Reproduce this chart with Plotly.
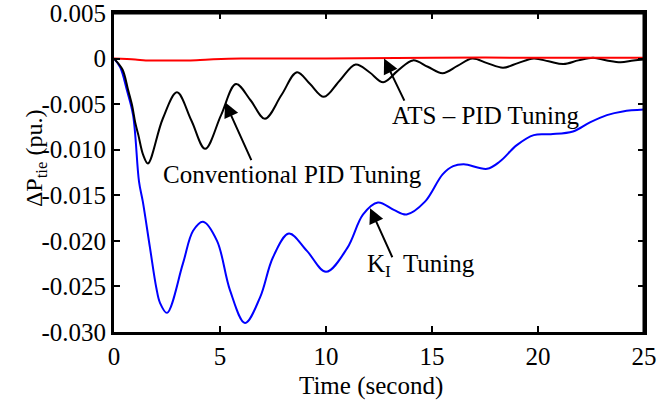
import plotly.graph_objects as go

# ---- data ----
t_ki = [0, 0.3, 0.6, 0.9, 1.18, 1.36, 1.7, 2.0, 2.17, 2.5, 3.25, 3.73, 4.2, 4.86, 5.47, 6.18,
        6.89, 7.5, 8.25, 9.1, 10.0, 11.0, 11.75, 12.45, 13.2, 13.8, 14.67, 15.5, 16.0, 16.5,
        17.6, 18.2, 19.0, 19.8, 20.6, 21.65, 22.45, 23.25, 24.0, 25.0]
v_ki = [0, -0.001, -0.0034, -0.0062, -0.0135, -0.0157, -0.0208, -0.0252, -0.0268, -0.0279,
        -0.0225, -0.0189, -0.0179, -0.0200, -0.0254, -0.0290, -0.0262, -0.0218, -0.0192,
        -0.0211, -0.0234, -0.0208, -0.0171, -0.0158, -0.0166, -0.0171, -0.0157, -0.0127,
        -0.0118, -0.0116, -0.0121, -0.0113, -0.0095, -0.0084, -0.0083, -0.0080, -0.0070,
        -0.0062, -0.0058, -0.0056]

t_conv = [0, 0.4, 0.66, 0.85, 1.0, 1.15, 1.38, 1.6, 2.3, 2.97, 3.65, 4.3, 5.05, 5.75, 6.45,
          7.12, 7.9, 8.63, 9.25, 9.9, 10.65, 11.4, 12.05, 12.7, 13.4, 14.1, 14.8, 15.5, 16.2,
          16.9, 17.6, 18.35, 19.05, 19.8, 20.5, 21.2, 21.9, 22.6, 23.25, 23.9, 24.5, 25.0]
v_conv = [0, -0.0012, -0.0034, -0.0051, -0.0070, -0.0084, -0.0106, -0.0115, -0.0066, -0.0037,
          -0.0068, -0.0099, -0.0062, -0.0028, -0.0046, -0.0066, -0.0040, -0.0015, -0.0028,
          -0.0042, -0.0024, -0.00065, -0.0015, -0.0026, -0.0013, -0.0002, -0.0009, -0.0016,
          -0.0008, 0.0, -0.0005, -0.0010, -0.0005, 0.0, -0.0003, -0.0006, -0.0002, 0.0001,
          -0.0002, -0.0004, -0.0002, -0.0001]

t_ats = [0, 1.0, 1.5, 2.5, 3.5, 4.5, 6.0, 10.0, 15.0, 20.0, 25.0]
v_ats = [0, -0.0001, -0.0002, -0.0002, -0.0002, -0.0001, 0, 0, 0.0001, 0.0001, 0.0001]

x_ticks = [0, 5, 10, 15, 20, 25]
y_ticks = [-0.030, -0.025, -0.020, -0.015, -0.010, -0.005, 0, 0.005]
y_tick_text = ["-0.030", "-0.025", "-0.020", "-0.015", "-0.010", "-0.005", "0", "0.005"]

FONT = "Liberation Serif, Times New Roman, serif"
TICK_SIZE = 25
TEXT_SIZE = 25
X_RANGE = [0, 25]
Y_RANGE = [-0.030, 0.005]

fig = go.Figure()
fig.add_trace(go.Scatter(x=t_ki, y=v_ki, mode="lines", line=dict(color="#0000ff", width=2, shape="spline")))
fig.add_trace(go.Scatter(x=t_conv, y=v_conv, mode="lines", line=dict(color="#000000", width=2, shape="spline")))
fig.add_trace(go.Scatter(x=t_ats, y=v_ats, mode="lines", line=dict(color="#ff0000", width=2, shape="spline")))
# top and right sides of the axes box, following the axis ranges
fig.add_trace(go.Scatter(x=[X_RANGE[0], X_RANGE[1], X_RANGE[1]],
                         y=[Y_RANGE[1], Y_RANGE[1], Y_RANGE[0]],
                         mode="lines", line=dict(color="black", width=3),
                         cliponaxis=False, hoverinfo="skip"))

tick_common = dict(ticks="inside", ticklen=6, tickwidth=2, tickcolor="black",
                   showline=True, linecolor="black", linewidth=3, mirror="allticks",
                   showgrid=False, zeroline=False, automargin=False, ticklabeloverflow="allow",
                   tickfont=dict(family=FONT, size=TICK_SIZE, color="black"))

fig.update_layout(
    xaxis=dict(range=X_RANGE, tickvals=x_ticks, ticklabelstandoff=0, **tick_common),
    yaxis=dict(range=Y_RANGE, tickvals=y_ticks, ticktext=y_tick_text, **tick_common),
)

arrow = dict(showarrow=True, arrowhead=2, arrowsize=1.5, arrowwidth=2, arrowcolor="black",
             axref="x", ayref="y", xref="x", yref="y", text="")
annotations = [
    dict(x=12.74, y=0.0, ax=13.73, ay=-0.00478, **arrow),
    dict(x=5.24, y=-0.00478, ax=6.51, ay=-0.0113, **arrow),
    dict(x=12.08, y=-0.01641, ax=13.16, ay=-0.02196, **arrow),
    dict(x=17.5, y=-0.0062, xref="x", yref="y", showarrow=False, text="ATS – PID Tuning",
         font=dict(family=FONT, size=TEXT_SIZE, color="black")),
    dict(x=8.44, y=-0.0127, xref="x", yref="y", showarrow=False, text="Conventional PID Tuning",
         font=dict(family=FONT, size=TEXT_SIZE, color="black")),
    dict(x=14.48, y=-0.0227, xref="x", yref="y", showarrow=False, text="K<sub>I</sub>  Tuning",
         font=dict(family=FONT, size=TEXT_SIZE, color="black")),
    dict(x=0.485, y=-0.168, xref="paper", yref="paper", showarrow=False, text="Time (second)",
         font=dict(family=FONT, size=TEXT_SIZE, color="black"), yanchor="middle"),
    dict(x=-0.178, y=0.544, xref="paper", yref="paper", showarrow=False, textangle=-90,
         text="ΔP<sub>tie</sub> (pu.)", font=dict(family=FONT, size=24, color="black")),
]

fig.update_layout(width=662, height=402, margin=dict(l=114, r=18, t=13, b=70),
                  paper_bgcolor="white", plot_bgcolor="white", showlegend=False,
                  annotations=annotations)

fig.write_html("out.html", config={"displayModeBar": False},
               post_script="document.body.style.margin='0px';")
